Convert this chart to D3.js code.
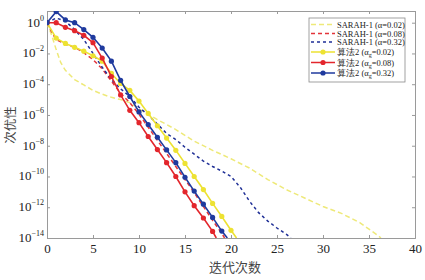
<!DOCTYPE html>
<html>
<head>
<meta charset="utf-8">
<script src="https://cdn.jsdelivr.net/npm/d3@7"></script>
<style>
  body { margin: 0; background: #fff; }
</style>
</head>
<body>
<div id="chart"></div>
<script>
// datos: [iteracion, log10(suboptimalidad)]
const sarahY = [[0,0],[0.5,-0.8],[1,-1.75],[1.5,-2.6],[2,-3.1],[3,-3.7],[4,-4.05],[5,-4.4],[6,-4.65],[7,-4.85],[8,-5.0],[9,-5.2],[10,-5.6],[12,-6.3],[14,-6.95],[16,-7.7],[18,-8.3],[20,-8.85],[22,-9.45],[24,-10.2],[26,-10.85],[28,-11.4],[30,-11.95],[32,-12.4],[34,-13.0],[36,-13.85],[36.3,-14]];
const sarahR = [[0,0],[0.5,-0.6],[1,-1.1],[2,-1.4],[3,-1.6],[4,-1.95],[5,-2.4],[6,-3.0],[7,-3.8],[8,-4.6],[9,-5.2],[10,-5.95],[11,-6.8],[12,-7.65],[13,-8.5],[14,-9.35],[15,-10.2],[16,-11.05],[17,-11.95],[18,-12.85],[19,-13.7],[19.3,-14]];
const sarahB = [[0,0],[1,0.3],[2,0.1],[3,-0.45],[4,-1.1],[5,-2.0],[6,-2.9],[7,-3.7],[8,-4.3],[9,-4.8],[10,-5.5],[11,-6.0],[12,-6.6],[13,-7.2],[14,-7.6],[15,-8.1],[16,-8.55],[17,-9.0],[18,-9.35],[19,-9.65],[20,-10.0],[21,-10.7],[22,-11.6],[23,-12.35],[24,-12.9],[25,-13.35],[26,-13.75],[26.5,-14]];
const alg2Y = [[0,0],[1,-1.0],[2,-1.35],[3,-1.6],[4,-1.85],[5,-2.15],[6,-2.5],[7,-3.3],[8,-3.95],[9,-4.4],[10,-5.1],[11,-5.9],[12,-6.7],[13,-7.5],[14,-8.3],[15,-9.15],[16,-10.0],[17,-10.85],[18,-11.75],[19,-12.6],[20,-13.5],[20.6,-14]];
const alg2R = [[0,0],[1,0],[2,-0.3],[3,-0.52],[4,-0.82],[5,-1.3],[6,-2.3],[7,-3.5],[8,-4.7],[9,-5.7],[10,-6.5],[11,-7.4],[12,-8.25],[13,-9.1],[14,-10.0],[15,-11.0],[16,-11.9],[17,-12.7],[18,-13.57],[18.4,-14]];
const alg2B = [[0,0],[1,0.72],[2,0.18],[3,0],[4,-0.45],[5,-0.95],[6,-1.65],[7,-2.5],[8,-3.75],[9,-4.8],[10,-5.8],[11,-6.62],[12,-7.45],[13,-8.27],[14,-9.1],[15,-10.05],[16,-10.95],[17,-11.8],[18,-12.66],[19,-13.55],[19.6,-14]];

const series = [
  {name: "SARAH-1 (α=0.02)", data: sarahY, color: "#eee979", dash: "5,3", marker: false},
  {name: "SARAH-1 (α=0.08)", data: sarahR, color: "#e3343a", dash: "4,3", marker: false},
  {name: "SARAH-1 (α=0.32)", data: sarahB, color: "#1f2f96", dash: "3,3", marker: false},
  {name: "算法2 (α", sub: "g", tail: "=0.02)", data: alg2Y, color: "#ede232", dash: null, marker: true},
  {name: "算法2 (α", sub: "g", tail: "=0.08)", data: alg2R, color: "#e3262c", dash: null, marker: true},
  {name: "算法2 (α", sub: "g", tail: "=0.32)", data: alg2B, color: "#1f3a9e", dash: null, marker: true}
];

const xTicks = [0, 5, 10, 15, 20, 25, 30, 35, 40];
const yTicks = [0, -2, -4, -6, -8, -10, -12, -14];

const W = 425, H = 280;
const margin = {top: 11, right: 10, bottom: 42, left: 47};
const width = W - margin.left - margin.right;
const height = H - margin.top - margin.bottom;

const svg = d3.select("#chart").append("svg")
    .attr("width", W).attr("height", H)
    .style("font-family", "'Liberation Serif', serif");

const g = svg.append("g")
    .attr("transform", "translate(" + margin.left + "," + margin.top + ")");

const x = d3.scaleLinear().domain([0, 40]).range([0, width]);
const y = d3.scaleLog().domain([1e-14, Math.pow(10, 0.76)]).range([height, 0]);

// clip para el area
g.append("clipPath").attr("id", "clip")
  .append("rect").attr("width", width).attr("height", height);

// ejes (estilo matlab, ticks hacia dentro)
const axisColor = "#9a9a9a";
const xb = g.append("g").attr("transform", "translate(0," + height + ")")
  .call(d3.axisBottom(x).tickValues(xTicks).tickSize(-3).tickPadding(6));
const xt = g.append("g")
  .call(d3.axisTop(x).tickValues(xTicks).tickSize(-3).tickFormat(""));
const yl = g.append("g")
  .call(d3.axisLeft(y).tickValues(yTicks.map(d => Math.pow(10, d))).tickSize(-3).tickPadding(4).tickFormat(""));
const yr = g.append("g").attr("transform", "translate(" + width + ",0)")
  .call(d3.axisRight(y).tickValues(yTicks.map(d => Math.pow(10, d))).tickSize(-3).tickFormat(""));
[xb, xt, yl, yr].forEach(a => {
  a.selectAll("path, line").attr("stroke", axisColor);
});
xb.selectAll("text").attr("fill", "#222").attr("font-size", 13)
  .style("font-family", "'Liberation Serif', serif");

// etiquetas 10^n
yTicks.forEach(function(p) {
  const t = g.append("text")
    .attr("x", -3).attr("y", y(Math.pow(10, p)) + 4)
    .attr("text-anchor", "end")
    .attr("fill", "#222")
    .attr("font-size", 13)
    .text("10");
  t.append("tspan").attr("dy", -6).attr("font-size", 8)
    .text(p === 0 ? "0" : "\u2212" + (-p));
});

// lineas
const line = d3.line()
  .x(d => x(d[0]))
  .y(d => y(Math.pow(10, d[1])));

const plot = g.append("g").attr("clip-path", "url(#clip)");
series.forEach(function(s) {
  plot.append("path")
    .datum(s.data)
    .attr("fill", "none")
    .attr("stroke", s.color)
    .attr("stroke-width", s.marker ? 1.6 : 1.5)
    .attr("stroke-dasharray", s.dash)
    .attr("d", line);
  if (s.marker) {
    plot.selectAll(null)
      .data(s.data.filter(d => Number.isInteger(d[0])))
      .enter().append("circle")
      .attr("cx", d => x(d[0]))
      .attr("cy", d => y(Math.pow(10, d[1])))
      .attr("r", 2.6)
      .attr("fill", s.color);
  }
});

// etiquetas de ejes
svg.append("text")
  .attr("x", 235).attr("y", 272)
  .attr("text-anchor", "middle")
  .attr("font-size", 13)
  .attr("fill", "#444")
  .style("font-family", "'Noto Sans CJK SC'")
  .text("迭代次数");

svg.append("text")
  .attr("transform", "translate(15,125) rotate(-90)")
  .attr("text-anchor", "middle")
  .attr("font-size", 12.5)
  .attr("fill", "#444")
  .style("font-family", "'Noto Sans CJK SC'")
  .text("次优性");

// leyenda
const leg = svg.append("g").attr("transform", "translate(309,18)");
leg.append("rect")
  .attr("width", 96).attr("height", 64)
  .attr("fill", "#fff").attr("stroke", "#8a8a8a").attr("stroke-width", 0.8);
const rowsY = [6.5, 15.5, 24, 34, 44.5, 55];
series.forEach(function(s, i) {
  const ry = rowsY[i];
  leg.append("line")
    .attr("x1", 2).attr("x2", 26).attr("y1", ry).attr("y2", ry)
    .attr("stroke", s.color).attr("stroke-width", 1.5)
    .attr("stroke-dasharray", s.dash);
  if (s.marker) {
    leg.append("circle").attr("cx", 14).attr("cy", ry).attr("r", 2.6).attr("fill", s.color);
  }
  const t = leg.append("text")
    .attr("x", 28).attr("y", ry + 3)
    .attr("font-size", 8.5)
    .attr("fill", "#222")
    .text(s.name);
  if (s.sub) {
    t.append("tspan").attr("dy", 2).attr("font-size", 6).text(s.sub);
    t.append("tspan").attr("dy", -2).text(s.tail);
  }
});
</script>
</body>
</html>
